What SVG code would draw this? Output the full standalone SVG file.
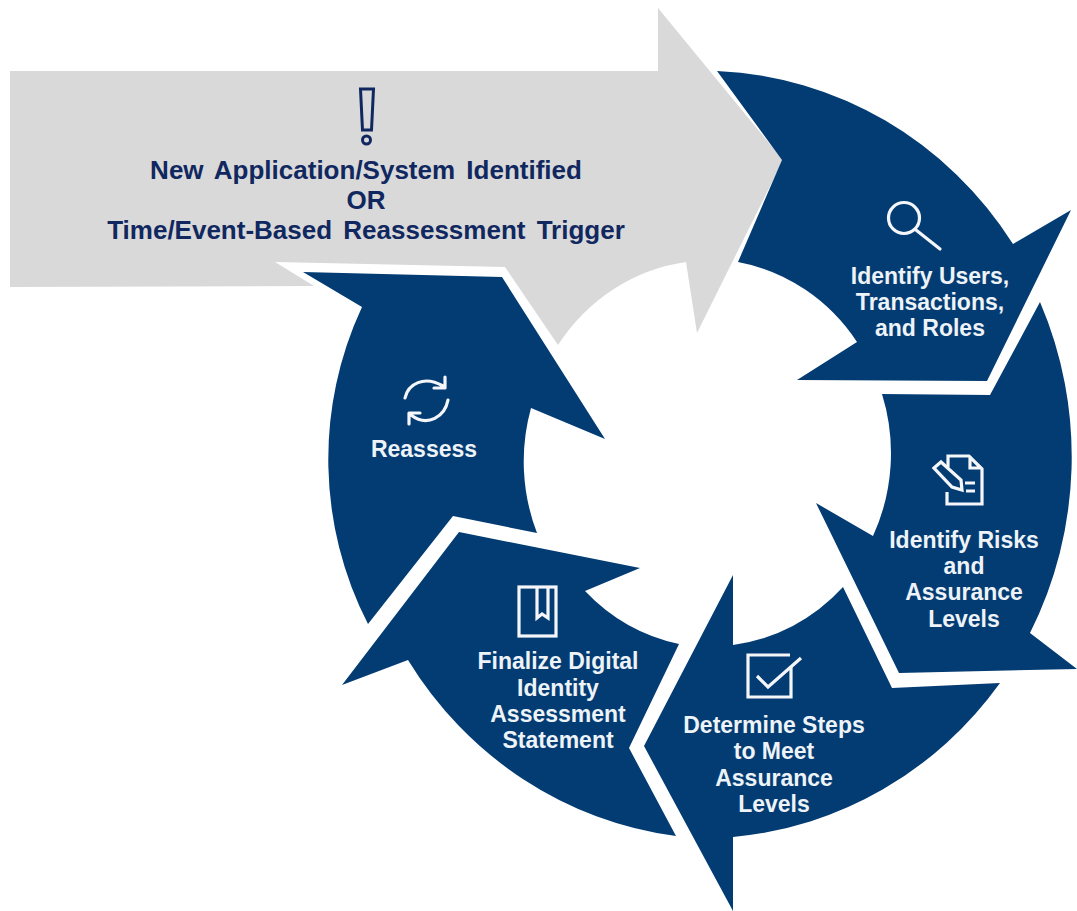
<svg xmlns="http://www.w3.org/2000/svg" width="1077" height="911" viewBox="0 0 1077 911">
<style>
.blue{fill:#033c73}
.gray{fill:#d9d9d9}
.w{font-family:"Liberation Sans",Arial,sans-serif;font-weight:700;font-size:23px;fill:#eef3f8;text-anchor:middle}
.n{font-family:"Liberation Sans",Arial,sans-serif;font-weight:700;font-size:26px;fill:#10285f;text-anchor:middle;word-spacing:4px}
.i{fill:none;stroke:#f4f6f9;stroke-width:3.200}
.r{stroke-linecap:round;stroke-linejoin:round}
</style>
<rect width="1077" height="911" fill="#fff"/>
<g id="trigger">
<path class="gray" d="M10 71H658V8L783 160L697 333L686 262A184 192 0 0 0 558 345L505 267L275 262L314 286L10 287Z"/>
<path d="M360.500 89H373.500L371.500 130H362.500Z" fill="none" stroke="#10285f" stroke-width="3"/>
<circle cx="366.500" cy="140" r="4" fill="none" stroke="#10285f" stroke-width="3"/>
<text class="n" x="366" y="179">New Application/System Identified</text>
<text class="n" x="366" y="209">OR</text>
<text class="n" x="366" y="239">Time/Event-Based Reassessment Trigger</text>
</g>
<g id="identify-users">
<path class="blue" d="M717 71A372 383 0 0 1 1013 244L1071 210L987 381L797 380L857 342A184 192 0 0 0 738 262L782 160Z"/>
<circle class="i" cx="904" cy="218" r="15.500"/>
<path class="i r" d="M916 230L940 249"/>
<text class="w" x="930" y="284">Identify Users,</text>
<text class="w" x="930" y="310">Transactions,</text>
<text class="w" x="930" y="336">and Roles</text>
</g>
<g id="identify-risks">
<path class="blue" d="M882 394L990 395L1040 302A372 383 0 0 1 1030 633L1077 669L899 673L816 503L873 536A184 192 0 0 0 882 394Z"/>
<path class="i" d="M948 467V456H969L982 469V504H947V492M970 456V468H982M965 483H975M966 491H975"/>
<path class="i" d="M934 468L941 462L961 480L962 490L952 487Z"/>
<text class="w" x="964" y="548">Identify Risks</text>
<text class="w" x="964" y="574">and</text>
<text class="w" x="964" y="600">Assurance</text>
<text class="w" x="964" y="627">Levels</text>
</g>
<g id="determine-steps">
<path class="blue" d="M733 575V645A184 192 0 0 0 843 587L892 688L1000 683A372 383 0 0 1 733 837V911L644 746Z"/>
<path class="i" d="M791 666V697H748V655H790"/>
<path class="i" d="M757 676L768 687L801 658"/>
<text class="w" x="774" y="733">Determine Steps</text>
<text class="w" x="774" y="759">to Meet</text>
<text class="w" x="774" y="786">Assurance</text>
<text class="w" x="774" y="812">Levels</text>
</g>
<g id="finalize">
<path class="blue" d="M459 532L640 568L585 591A184 192 0 0 0 679 644L629 748L676 836A372 383 0 0 1 408 660L342 685Z"/>
<rect class="i" x="519" y="587" width="37" height="49"/>
<path class="i" d="M537 587V618L542 614L548 618V587"/>
<text class="w" x="558" y="669">Finalize Digital</text>
<text class="w" x="558" y="696">Identity</text>
<text class="w" x="558" y="722">Assessment</text>
<text class="w" x="558" y="748">Statement</text>
</g>
<g id="reassess">
<path class="blue" d="M303 272L502 277L605 439L531 408A184 192 0 0 0 537 533L453 516L368 624A338 350 0 0 1 362 307Z"/>
<path class="i r" d="M405 398C408 384 424 375 443 386M445 377V388H434"/>
<path class="i r" d="M448 400C445 416 428 428 411 415M409 424V413H420"/>
<text class="w" x="424" y="457">Reassess</text>
</g>
</svg>
